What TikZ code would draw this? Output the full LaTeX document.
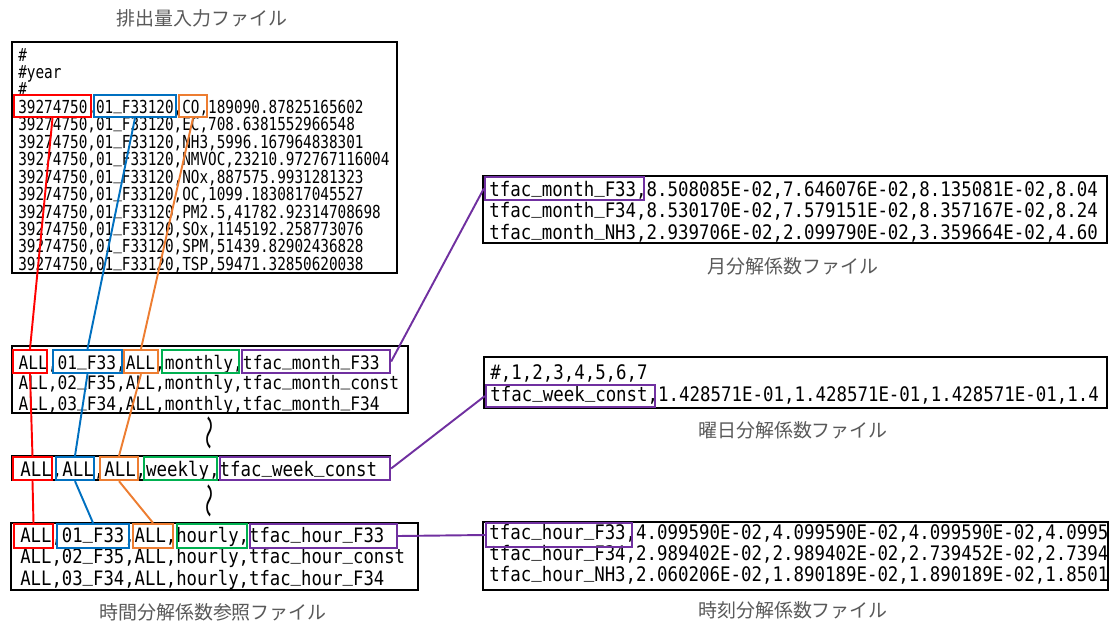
\documentclass[tikz,border=0pt]{standalone}
\usepackage{fontspec}
\newfontfamily\jpfont{Noto Sans CJK JP}
\newfontfamily\datn[FakeStretch=0.80]{DejaVu Sans Mono}
\newfontfamily\dat[FakeStretch=0.87]{DejaVu Sans Mono}
\usepackage{tikz}
\usepackage{xcolor}
\usetikzlibrary{fit}

\definecolor{fred}{HTML}{FF0000}
\definecolor{fblue}{HTML}{0070C0}
\definecolor{forange}{HTML}{ED7D31}
\definecolor{fgreen}{HTML}{00B050}
\definecolor{fpurple}{HTML}{7030A0}
\definecolor{capgray}{HTML}{595959}

% underscore sitting on the baseline
\newcommand{\usc}{\raisebox{.2em}{\_}}

\tikzset{
  filebox/.style={draw, line width=1.1pt, inner sep=0pt},
  fld/.style={draw=#1, line width=1.3pt, inner sep=0pt},
  conn/.style={draw=#1, line width=1.1pt},
  eline/.style={anchor=base west, inner sep=0pt, font=\datn\fontsize{10.2}{12}\selectfont},
  dline/.style={anchor=base west, inner sep=0pt, font=\dat\fontsize{#1}{14}\selectfont},
  capt/.style={text=capgray, inner sep=0pt, font=\jpfont\fontsize{10.8}{13}\selectfont},
  wave/.style={rotate=90, yscale=0.6, transform shape, inner sep=0pt, font=\jpfont\fontsize{20}{24}\selectfont}
}

\begin{document}
\begin{tikzpicture}[x=0.02cm, y=-0.02cm]
\useasboundingbox (0,0) rectangle (1115,623);

% Emission input file
\node[capt] (t-emis) at (202,18) {排出量入力ファイル};
\node[filebox, fit={(12,42) (397,273)}] (emis) {};
\foreach \ln [count=\k from 0] in {\#, \#year, \#,
    {39274750,01\usc F33120,CO,189090.87825165602},
    {39274750,01\usc F33120,EC,708.6381552966548},
    {39274750,01\usc F33120,NH3,5996.167964838301},
    {39274750,01\usc F33120,NMVOC,23210.972767116004},
    {39274750,01\usc F33120,NOx,887575.9931281323},
    {39274750,01\usc F33120,OC,1099.1830817045527},
    {39274750,01\usc F33120,PM2.5,41782.92314708698},
    {39274750,01\usc F33120,SOx,1145192.258773076},
    {39274750,01\usc F33120,SPM,51439.82902436828},
    {39274750,01\usc F33120,TSP,59471.32850620038}}{
    \node[eline] (e\k) at (18, 61+17.45*\k) {\ln};
}
\node[fld=fred, fit={(14,95) (91,117)}] (e-red) {};
\node[fld=fblue, fit={(94,95) (176,117)}] (e-blue) {};
\node[fld=forange, fit={(179,95) (207,117)}] (e-orange) {};

% Time allocation reference file
\node[filebox, fit={(12,346) (408,413)}] (mref) {};
\foreach \ln [count=\k from 0] in {{ALL,01\usc F33,ALL,monthly,tfac\usc month\usc F33},
    {ALL,02\usc F35,ALL,monthly,tfac\usc month\usc const},
    {ALL,03\usc F34,ALL,monthly,tfac\usc month\usc F34}}{
    \node[dline=10.6] (m\k) at (18.3, 369+20.5*\k) {\ln};
}
\node[fld=fred, fit={(13,350) (47,373)}] (m-red) {};
\node[fld=fblue, fit={(53,350) (122,373)}] (m-blue) {};
\node[fld=forange, fit={(124,350) (158,373)}] (m-orange) {};
\node[fld=fgreen, fit={(162,350) (239,373)}] (m-green) {};
\node[fld=fpurple, fit={(242,350) (390,373)}] (m-purple) {};

\node[wave] (gap1) at (212,433) {～};

\node[filebox, fit={(12,456) (390,480)}] (wref) {};
\node[dline=11.4] (w0) at (20,476.5) {ALL,ALL,ALL,weekly,tfac\usc week\usc const};
\node[fld=fred, fit={(13,457) (52,480)}] (w-red) {};
\node[fld=fblue, fit={(56,457) (94,480)}] (w-blue) {};
\node[fld=forange, fit={(100,457) (138,480)}] (w-orange) {};
\node[fld=fgreen, fit={(144,457) (217,480)}] (w-green) {};
\node[fld=fpurple, fit={(220,457) (390,480)}] (w-purple) {};

\node[wave] (gap2) at (212,501) {～};

\node[filebox, fit={(11,523) (418,590)}] (href) {};
\foreach \ln [count=\k from 0] in {{ALL,01\usc F33,ALL,hourly,tfac\usc hour\usc F33},
    {ALL,02\usc F35,ALL,hourly,tfac\usc hour\usc const},
    {ALL,03\usc F34,ALL,hourly,tfac\usc hour\usc F34}}{
    \node[dline=11.3] (h\k) at (20, 542+21.5*\k) {\ln};
}
\node[fld=fred, fit={(14,524) (53,548)}] (h-red) {};
\node[fld=fblue, fit={(57,524) (129,548)}] (h-blue) {};
\node[fld=forange, fit={(133,524) (173,548)}] (h-orange) {};
\node[fld=fgreen, fit={(177,524) (247,548)}] (h-green) {};
\node[fld=fpurple, fit={(250,524) (397,548)}] (h-purple) {};
\node[capt] (t-ref) at (213,612) {時間分解係数参照ファイル};

% Monthly factor file
\node[filebox, fit={(483,176) (1107,243)}] (mfile) {};
\begin{scope}
\clip (483,176) rectangle (1107,243);
\foreach \ln [count=\k from 0] in {{tfac\usc month\usc F33,8.508085E-02,7.646076E-02,8.135081E-02,8.04},
    {tfac\usc month\usc F34,8.530170E-02,7.579151E-02,8.357167E-02,8.24},
    {tfac\usc month\usc NH3,2.939706E-02,2.099790E-02,3.359664E-02,4.60}}{
    \node[dline=11.4] (mf\k) at (489, 196+21.5*\k) {\ln};
}
\end{scope}
\node[fld=fpurple, fit={(485,177) (644,200)}] (mf-purple) {};
\node[capt] (t-month) at (793,266) {月分解係数ファイル};

% Weekly factor file
\node[filebox, fit={(484,357) (1107,408)}] (wfile) {};
\begin{scope}
\clip (484,357) rectangle (1107,408);
\foreach \ln [count=\k from 0] in {{\#,1,2,3,4,5,6,7},
    {tfac\usc week\usc const,1.428571E-01,1.428571E-01,1.428571E-01,1.4}}{
    \node[dline=11.4] (wf\k) at (490, 379.5+22*\k) {\ln};
}
\end{scope}
\node[fld=fpurple, fit={(486,385) (655,407)}] (wf-purple) {};
\node[capt] (t-week) at (793,430) {曜日分解係数ファイル};

% Hourly factor file
\node[filebox, fit={(483,522) (1108,590)}] (hfile) {};
\begin{scope}
\clip (483,522) rectangle (1108,590);
\foreach \ln [count=\k from 0] in {{tfac\usc hour\usc F33,4.099590E-02,4.099590E-02,4.099590E-02,4.0995},
    {tfac\usc hour\usc F34,2.989402E-02,2.989402E-02,2.739452E-02,2.7394},
    {tfac\usc hour\usc NH3,2.060206E-02,1.890189E-02,1.890189E-02,1.8501}}{
    \node[dline=11.4] (hf\k) at (489, 539.5+21*\k) {\ln};
}
\end{scope}
\node[fld=fpurple, fit={(486,523) (632,547)}] (hf-purple) {};
\node[capt] (t-hour) at (793,610) {時刻分解係数ファイル};

% connectors
\draw[conn=fred] (e-red.south) -- (m-red.north) (m-red.south) -- (w-red.north) (w-red.south) -- (h-red.north);
\draw[conn=fblue] (e-blue.south) -- (m-blue.north) (m-blue.south) -- (w-blue.north) (w-blue.south) -- (h-blue.north);
\draw[conn=forange] (e-orange.south) -- (m-orange.north) (m-orange.south) -- (w-orange.north) (w-orange.south) -- (h-orange.north);
\draw[conn=fpurple] (m-purple.east) -- (mf-purple.west);
\draw[conn=fpurple] (w-purple.east) -- (wf-purple.west);
\draw[conn=fpurple] (h-purple.east) -- (hf-purple.west);
\end{tikzpicture}
\end{document}
